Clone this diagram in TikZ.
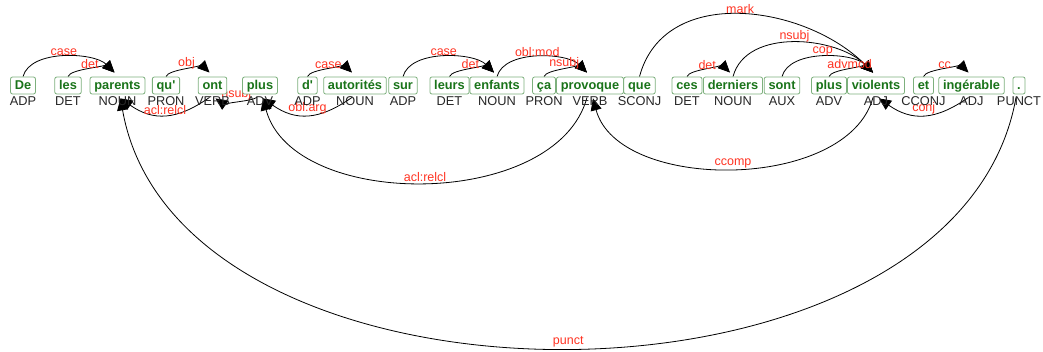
\documentclass[tikz,border=0pt]{standalone}
\usepackage{fontspec}
\setsansfont{Liberation Sans}[Ligatures=TeXOff]
\renewcommand{\familydefault}{\sfdefault}
\usetikzlibrary{arrows.meta,positioning}
\pgfdeclarelayer{background}
\pgfsetlayers{background,main}
\definecolor{wordgreen}{HTML}{1A741A}
\definecolor{boxgreen}{HTML}{7DB07D}
\definecolor{relred}{HTML}{FF3322}

\begin{document}
\begin{tikzpicture}[
    x=1pt, y=1pt,
    wordbox/.style={rectangle, draw=boxgreen, line width=0.8pt, fill=white, rounded corners=2pt, text=wordgreen, font=\fontsize{12.8}{14}\selectfont\bfseries, inner xsep=4.3pt, inner ysep=2pt, text height=11pt, text depth=2pt},
    tagtext/.style={inner sep=0pt, text height=9.5pt, text depth=0pt, font=\fontsize{12.8}{14}\selectfont, text=black!85},
    deprel/.style={-{Triangle[length=12pt,width=11pt]}, line width=0.8pt},
    above arc/.style={deprel, out=75, in=135, looseness=0.45},
    below arc/.style={deprel, out=-145, in=-35, looseness=1.15},
    long arc/.style={deprel, out=-105, in=-75},
    rel/.style={text=relred, font=\fontsize{12.5}{14}\selectfont, inner sep=0.3pt, above}
]
\useasboundingbox (0,0) rectangle (1043,-352);

% Words and their tags
\node[wordbox] (w1) at (23,-85.5) {De};          \node[tagtext, below=1pt of w1] (t1) {ADP};
\node[wordbox] (w2) at (68,-85.5) {les};         \node[tagtext, below=1pt of w2] (t2) {DET};
\node[wordbox] (w3) at (117.5,-85.5) {parents};  \node[tagtext, below=1pt of w3] (t3) {NOUN};
\node[wordbox] (w4) at (166,-85.5) {qu'};        \node[tagtext, below=1pt of w4] (t4) {PRON};
\node[wordbox] (w5) at (212.5,-85.5) {ont};      \node[tagtext, below=1pt of w5] (t5) {VERB};
\node[wordbox] (w6) at (260,-85.5) {plus};       \node[tagtext, below=1pt of w6] (t6) {ADV};
\node[wordbox] (w7) at (307.5,-85.5) {d'};       \node[tagtext, below=1pt of w7] (t7) {ADP};
\node[wordbox] (w8) at (355,-85.5) {autorités};  \node[tagtext, below=1pt of w8] (t8) {NOUN};
\node[wordbox] (w9) at (403,-85.5) {sur};        \node[tagtext, below=1pt of w9] (t9) {ADP};
\node[wordbox] (w10) at (449.5,-85.5) {leurs};   \node[tagtext, below=1pt of w10] (t10) {DET};
\node[wordbox] (w11) at (497,-85.5) {enfants};   \node[tagtext, below=1pt of w11] (t11) {NOUN};
\node[wordbox] (w12) at (544,-85.5) {ça};        \node[tagtext, below=1pt of w12] (t12) {PRON};
\node[wordbox] (w13) at (590,-85.5) {provoque};  \node[tagtext, below=1pt of w13] (t13) {VERB};
\node[wordbox] (w14) at (639.5,-85.5) {que};     \node[tagtext, below=1pt of w14] (t14) {SCONJ};
\node[wordbox] (w15) at (687,-85.5) {ces};       \node[tagtext, below=1pt of w15] (t15) {DET};
\node[wordbox] (w16) at (733,-85.5) {derniers};  \node[tagtext, below=1pt of w16] (t16) {NOUN};
\node[wordbox] (w17) at (782,-85.5) {sont};      \node[tagtext, below=1pt of w17] (t17) {AUX};
\node[wordbox] (w18) at (829,-85.5) {plus};      \node[tagtext, below=1pt of w18] (t18) {ADV};
\node[wordbox] (w19) at (876,-85.5) {violents};  \node[tagtext, below=1pt of w19] (t19) {ADJ};
\node[wordbox] (w20) at (923.5,-85.5) {et};      \node[tagtext, below=1pt of w20] (t20) {CCONJ};
\node[wordbox] (w21) at (971.5,-85.5) {ingérable}; \node[tagtext, below=1pt of w21] (t21) {ADJ};
\node[wordbox] (w22) at (1019,-85.5) {.};        \node[tagtext, below=1pt of w22] (t22) {PUNCT};

\begin{pgfonlayer}{background}
% Relations drawn above (head on the right)
\draw[above arc, looseness=0.8] (w1.north) to node[rel]{case} ([xshift=-3pt,yshift=4pt]w3.north);
\draw[above arc] (w2.north) to node[rel]{det} ([xshift=-3pt,yshift=4pt]w3.north);
\draw[above arc] (w4.north) to node[rel]{obj} ([xshift=-3pt,yshift=4pt]w5.north);
\draw[above arc] (w7.north) to node[rel]{case} ([xshift=-3pt,yshift=4pt]w8.north);
\draw[above arc, looseness=0.8] (w9.north) to node[rel]{case} ([xshift=-3pt,yshift=4pt]w11.north);
\draw[above arc] (w10.north) to node[rel]{det} ([xshift=-3pt,yshift=4pt]w11.north);
\draw[above arc, looseness=0.8] (w11.north) to node[rel]{obl:mod} ([xshift=-3pt,yshift=4pt]w13.north);
\draw[above arc] (w12.north) to node[rel]{nsubj} ([xshift=-3pt,yshift=4pt]w13.north);
\draw[above arc, looseness=1.05] (w14.north) to node[rel]{mark} ([xshift=-3pt,yshift=4pt]w19.north);
\draw[above arc] (w15.north) to node[rel]{det} ([xshift=-3pt,yshift=4pt]w16.north);
\draw[above arc, looseness=0.93] (w16.north) to node[rel]{nsubj} ([xshift=-3pt,yshift=4pt]w19.north);
\draw[above arc, looseness=0.8] (w17.north) to node[rel]{cop} ([xshift=-3pt,yshift=4pt]w19.north);
\draw[above arc] (w18.north) to node[rel]{advmod} ([xshift=-3pt,yshift=4pt]w19.north);
\draw[above arc] (w20.north) to node[rel]{cc} ([xshift=-3pt,yshift=4pt]w21.north);

% Relations drawn below (head on the left)
\draw[below arc] ([xshift=-3pt,yshift=-3pt]w5.south) to node[rel]{acl:relcl} ([xshift=3pt,yshift=-4pt]w3.south);
\draw[below arc, looseness=0.45] ([xshift=-3pt,yshift=-3pt]w6.south) to node[rel]{nsubj} ([xshift=3pt,yshift=-4pt]w5.south);
\draw[below arc] ([xshift=-3pt,yshift=-3pt]w8.south) to node[rel]{obl:arg} ([xshift=3pt,yshift=-4pt]w6.south);
\draw[long arc, looseness=0.92] ([xshift=-3pt,yshift=-3pt]w13.south) to node[rel]{acl:relcl} ([xshift=3pt,yshift=-4pt]w6.south);
\draw[long arc, looseness=0.89] ([xshift=-3pt,yshift=-3pt]w19.south) to node[rel]{ccomp} ([xshift=3pt,yshift=-4pt]w13.south);
\draw[below arc] ([xshift=-3pt,yshift=-3pt]w21.south) to node[rel]{conj} ([xshift=3pt,yshift=-4pt]w19.south);
\draw[long arc, looseness=0.97, out=-100, in=-80] ([xshift=-3pt,yshift=-3pt]w22.south) to node[rel]{punct} ([xshift=3pt,yshift=-4pt]w3.south);
\end{pgfonlayer}

\end{tikzpicture}
\end{document}
